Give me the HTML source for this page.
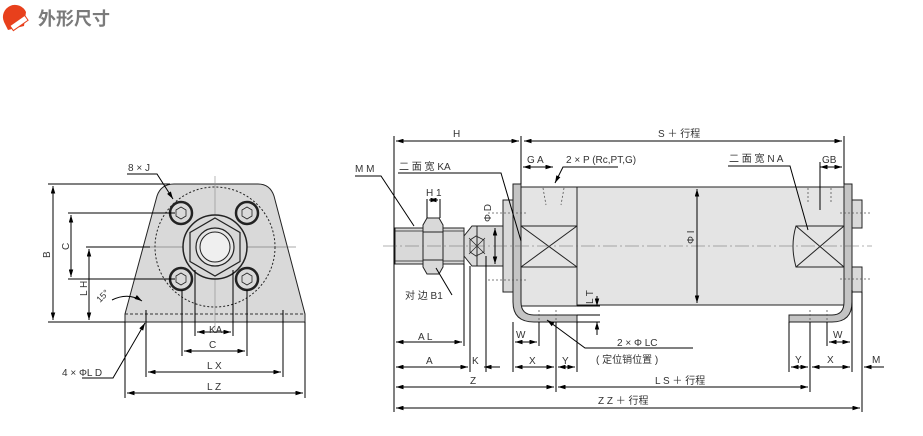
<!DOCTYPE html>
<html><head><meta charset="utf-8"><style>
html,body{margin:0;padding:0;background:#fff;}
svg{display:block;}
text{font-family:"Liberation Sans","Noto Sans CJK SC",sans-serif;font-size:10px;fill:#333;}
</style></head><body>
<svg width="923" height="436" viewBox="0 0 923 436" xmlns="http://www.w3.org/2000/svg">
<defs>
<marker id="a" viewBox="0 0 10 6" refX="10" refY="3" markerWidth="8" markerHeight="4.5" markerUnits="userSpaceOnUse" orient="auto-start-reverse"><path d="M0,0 L10,3 L0,6 z" fill="#000"/></marker>
</defs>
<!-- logo -->
<path d="M4,22 A12,12 0 0 1 26,12 L24,26 L8,30 z" fill="#e8401c"/>
<rect x="10" y="20" width="18" height="6" fill="#fff" stroke="#e8401c" transform="rotate(-35 19 23)"/>
<text x="38" y="25" style="font-size:18px;font-weight:bold;fill:#7a7a7a">外形尺寸</text>

<!-- ===== LEFT VIEW ===== -->
<path d="M125,322 L125,314 L157,196 Q161,184 174,184 L258,184 Q270,184 274,196 L305,314 L305,322 Z" fill="#d9d9d9" stroke="#222" stroke-width="1"/>
<line x1="125" y1="314" x2="305" y2="314" stroke="#333" stroke-dasharray="3,2"/>
<line x1="125" y1="322" x2="305" y2="322" stroke="#222"/>
<circle cx="215" cy="247" r="60" fill="none" stroke="#222" stroke-dasharray="2,2"/>
<line x1="215" y1="176" x2="215" y2="330" stroke="#888" stroke-width="0.6"/>
<line x1="140" y1="247" x2="296" y2="247" stroke="#555" stroke-width="0.6"/>
<circle cx="215" cy="247" r="32" fill="#d9d9d9" stroke="#222" stroke-width="1.5"/>
<polygon points="215,218 240,232.5 240,261.5 215,276 190,261.5 190,232.5" fill="#d9d9d9" stroke="#222" stroke-width="1.2"/>
<circle cx="215" cy="247" r="19" fill="#e6e6e6" stroke="#222" stroke-width="1.2"/>
<circle cx="215" cy="247" r="15" fill="#efefef" stroke="#222"/>
<g stroke="#222" fill="#d9d9d9">
<circle cx="181" cy="213" r="11" stroke-width="2.5"/><circle cx="247" cy="213" r="11" stroke-width="2.5"/>
<circle cx="181" cy="279" r="11" stroke-width="2.5"/><circle cx="247" cy="279" r="11" stroke-width="2.5"/>
</g>
<g stroke="#222" fill="none" stroke-width="0.8">
<polygon points="181,207 186,210 186,216 181,219 176,216 176,210"/><polygon points="247,207 252,210 252,216 247,219 242,216 242,210"/>
<polygon points="181,273 186,276 186,282 181,285 176,282 176,276"/><polygon points="247,273 252,276 252,282 247,285 242,282 242,276"/>
</g>
<g stroke="#000" stroke-width="1" fill="none">
<line x1="48" y1="184" x2="170" y2="184"/><line x1="48" y1="322" x2="125" y2="322"/>
<line x1="53" y1="186" x2="53" y2="320" marker-start="url(#a)" marker-end="url(#a)"/>
<line x1="68" y1="213" x2="175" y2="213"/><line x1="68" y1="279" x2="175" y2="279"/>
<line x1="71" y1="215" x2="71" y2="277" marker-start="url(#a)" marker-end="url(#a)"/>
<line x1="86" y1="247" x2="150" y2="247"/>
<line x1="89" y1="249" x2="89" y2="320" marker-start="url(#a)" marker-end="url(#a)"/>
<line x1="125" y1="322" x2="125" y2="398"/><line x1="305" y1="322" x2="305" y2="398"/>
<line x1="146" y1="310" x2="146" y2="377"/><line x1="283" y1="310" x2="283" y2="377"/>
<line x1="182" y1="290" x2="182" y2="356"/><line x1="247" y1="290" x2="247" y2="356"/>
<line x1="195" y1="270" x2="195" y2="336"/><line x1="233" y1="270" x2="233" y2="336"/>
<line x1="197" y1="332" x2="231" y2="332" marker-start="url(#a)" marker-end="url(#a)"/>
<line x1="184" y1="351" x2="245" y2="351" marker-start="url(#a)" marker-end="url(#a)"/>
<line x1="148" y1="372" x2="281" y2="372" marker-start="url(#a)" marker-end="url(#a)"/>
<line x1="127" y1="393" x2="303" y2="393" marker-start="url(#a)" marker-end="url(#a)"/>
<polyline points="127,174 157,174 173,199" marker-end="url(#a)"/>
<polyline points="82,378 113,378 145,323" marker-end="url(#a)"/>
<path d="M112,300 Q128,292 142,301" marker-end="url(#a)"/>
</g>
<text x="128" y="171">8 × J</text>
<text x="50" y="258" transform="rotate(-90 50 258)">B</text>
<text x="69" y="250" transform="rotate(-90 69 250)">C</text>
<text x="87" y="296" transform="rotate(-90 87 296)">L H</text>
<text x="100" y="303" transform="rotate(-45 100 303)" style="font-size:9px">15°</text>
<text x="209" y="333">KA</text>
<text x="209" y="348">C</text>
<text x="207" y="369">L X</text>
<text x="207" y="390">L Z</text>
<text x="62" y="376">4 × ΦL D</text>

<!-- ===== RIGHT VIEW ===== -->
<rect x="395" y="228" width="69" height="36" fill="#d9d9d9" stroke="#222"/>
<line x1="395" y1="231" x2="464" y2="231" stroke="#222" stroke-width="0.7"/>
<line x1="395" y1="261" x2="464" y2="261" stroke="#222" stroke-width="0.7"/>
<path d="M423,225 L427,218 L439,218 L443,225 L443,267 L439,274 L427,274 L423,267 Z" fill="#d9d9d9" stroke="#222"/>
<line x1="423" y1="232" x2="443" y2="232" stroke="#222"/><line x1="423" y1="260" x2="443" y2="260" stroke="#222"/>
<path d="M464,236 L472,226 L513,226 L513,266 L472,266 L464,256 Z" fill="#d9d9d9" stroke="#222"/>
<line x1="477" y1="226" x2="477" y2="266" stroke="#222"/>
<path d="M470,240 L476,236 L484,240 L484,252 L476,256 L470,252 Z" fill="none" stroke="#222" stroke-width="0.8"/>
<line x1="469" y1="238" x2="485" y2="254" stroke="#222" stroke-width="0.7"/><line x1="485" y1="238" x2="469" y2="254" stroke="#222" stroke-width="0.7"/>
<rect x="503" y="200" width="10" height="92" fill="#d9d9d9" stroke="#222"/>
<rect x="521" y="187" width="56" height="119" fill="#e4e4e4" stroke="#222"/>
<rect x="577" y="187" width="267" height="118" fill="#e4e4e4" stroke="#222"/>
<rect x="521" y="226" width="56" height="41" fill="none" stroke="#222"/>
<line x1="521" y1="226" x2="577" y2="267" stroke="#222"/><line x1="577" y1="226" x2="521" y2="267" stroke="#222"/>
<path d="M513,184 L521,184 L521,302 Q521,315 534,315 L577,315 L577,322 L534,322 Q513,322 513,302 Z" fill="#c4c4c4" stroke="#222"/>
<path d="M796,226 L844,226 L844,267 L796,267 Q790,246 796,226 Z" fill="#e4e4e4" stroke="#222"/>
<line x1="796" y1="226" x2="844" y2="267" stroke="#222"/><line x1="844" y1="226" x2="796" y2="267" stroke="#222"/>
<rect x="852" y="200" width="10" height="28" fill="#d9d9d9" stroke="#222"/>
<rect x="852" y="267" width="10" height="25" fill="#d9d9d9" stroke="#222"/>
<path d="M844,184 L852,184 L852,302 Q852,322 832,322 L789,322 L789,315 L832,315 Q844,315 844,302 Z" fill="#c4c4c4" stroke="#222"/>
<g stroke="#555" stroke-dasharray="2,2" fill="none" stroke-width="0.8">
<line x1="543" y1="188" x2="546" y2="205"/><line x1="564" y1="188" x2="561" y2="205"/>
<line x1="808" y1="188" x2="808" y2="203"/><line x1="831" y1="188" x2="831" y2="203"/>
<line x1="488" y1="213" x2="528" y2="213"/><line x1="488" y1="280" x2="528" y2="280"/>
<line x1="840" y1="213" x2="870" y2="213"/><line x1="840" y1="279" x2="870" y2="279"/>
<line x1="539" y1="310" x2="539" y2="330"/><line x1="556" y1="310" x2="556" y2="330"/>
<line x1="810" y1="310" x2="810" y2="330"/><line x1="827" y1="310" x2="827" y2="330"/>
</g>
<line x1="383" y1="246" x2="872" y2="246" stroke="#666" stroke-width="0.6" stroke-dasharray="14,3,2,3"/>
<g stroke="#000" stroke-width="1" fill="none">
<line x1="394" y1="136" x2="394" y2="412"/>
<line x1="521" y1="136" x2="521" y2="184"/><line x1="844" y1="136" x2="844" y2="184"/>
<line x1="396" y1="141" x2="519" y2="141" marker-start="url(#a)" marker-end="url(#a)"/>
<line x1="524" y1="141" x2="842" y2="141" marker-start="url(#a)" marker-end="url(#a)"/>
<line x1="523" y1="167" x2="553" y2="167" marker-start="url(#a)" marker-end="url(#a)"/>
<polyline points="618,167 563,167 555,183" marker-end="url(#a)"/>
<line x1="820" y1="167" x2="842" y2="167" marker-start="url(#a)" marker-end="url(#a)"/>
<line x1="820" y1="162" x2="820" y2="210"/>
<polyline points="728,166 790,166 808,230"/>
<polyline points="355,176 381,176 414,226"/>
<polyline points="398,173 501,173 521,241"/>
<line x1="427" y1="199" x2="427" y2="218"/><line x1="440" y1="199" x2="440" y2="218"/>
<line x1="429" y1="200" x2="438" y2="200" marker-start="url(#a)" marker-end="url(#a)"/>
<polyline points="452,295 436,268"/>
<line x1="495" y1="228" x2="495" y2="264" marker-start="url(#a)" marker-end="url(#a)"/>
<line x1="697" y1="189" x2="697" y2="303" marker-start="url(#a)" marker-end="url(#a)"/>
<line x1="597" y1="296" x2="597" y2="306" marker-end="url(#a)"/>
<line x1="597" y1="322" x2="597" y2="335" marker-start="url(#a)"/>
<line x1="577" y1="306" x2="600" y2="306"/><line x1="577" y1="315" x2="600" y2="315"/><line x1="577" y1="322" x2="600" y2="322"/>
<polyline points="693,348 585,348 547,320" marker-end="url(#a)"/>
<line x1="464" y1="264" x2="464" y2="346"/>
<line x1="396" y1="342" x2="462" y2="342" marker-start="url(#a)" marker-end="url(#a)"/>
<line x1="470" y1="266" x2="470" y2="372"/><line x1="486" y1="256" x2="486" y2="372"/>
<line x1="513" y1="322" x2="513" y2="372"/><line x1="539" y1="322" x2="539" y2="346"/>
<line x1="515" y1="342" x2="537" y2="342" marker-start="url(#a)" marker-end="url(#a)"/>
<line x1="396" y1="367" x2="468" y2="367" marker-start="url(#a)" marker-end="url(#a)"/>
<line x1="484" y1="367" x2="500" y2="367" marker-start="url(#a)"/>
<line x1="515" y1="367" x2="554" y2="367" marker-start="url(#a)" marker-end="url(#a)"/>
<line x1="556" y1="322" x2="556" y2="392"/><line x1="577" y1="322" x2="577" y2="372"/>
<line x1="558" y1="367" x2="575" y2="367" marker-start="url(#a)" marker-end="url(#a)"/>
<line x1="396" y1="387" x2="554" y2="387" marker-start="url(#a)" marker-end="url(#a)"/>
<line x1="558" y1="387" x2="808" y2="387" marker-start="url(#a)" marker-end="url(#a)"/>
<line x1="396" y1="408" x2="860" y2="408" marker-start="url(#a)" marker-end="url(#a)"/>
<line x1="789" y1="322" x2="789" y2="372"/><line x1="810" y1="322" x2="810" y2="392"/>
<line x1="827" y1="322" x2="827" y2="346"/><line x1="852" y1="290" x2="852" y2="372"/>
<line x1="862" y1="292" x2="862" y2="412"/>
<line x1="829" y1="342" x2="850" y2="342" marker-start="url(#a)" marker-end="url(#a)"/>
<line x1="791" y1="367" x2="808" y2="367" marker-start="url(#a)" marker-end="url(#a)"/>
<line x1="812" y1="367" x2="850" y2="367" marker-start="url(#a)" marker-end="url(#a)"/>
<line x1="884" y1="367" x2="864" y2="367" marker-end="url(#a)"/>
</g>
<text x="453" y="137">H</text>
<text x="658" y="137">S ＋ 行程</text>
<text x="527" y="163">G A</text>
<text x="566" y="163">2 × P (Rc,PT,G)</text>
<text x="729" y="162">二 面 宽 N A</text>
<text x="822" y="163">GB</text>
<text x="355" y="172">M M</text>
<text x="399" y="170">二 面 宽 KA</text>
<text x="426" y="196">H 1</text>
<text x="405" y="299">对 边 B1</text>
<text x="491" y="222" transform="rotate(-90 491 222)">Φ D</text>
<text x="694" y="244" transform="rotate(-90 694 244)">Φ I</text>
<text x="593" y="304" transform="rotate(-90 593 304)">L T</text>
<text x="418" y="340">A L</text>
<text x="516" y="338">W</text>
<text x="617" y="346">2 × Φ LC</text>
<text x="596" y="363">(  定位销位置 )</text>
<text x="426" y="364">A</text>
<text x="472" y="364">K</text>
<text x="529" y="364">X</text>
<text x="562" y="364">Y</text>
<text x="470" y="384">Z</text>
<text x="655" y="384">L S ＋ 行程</text>
<text x="598" y="404">Z Z ＋ 行程</text>
<text x="833" y="338">W</text>
<text x="795" y="363">Y</text>
<text x="827" y="363">X</text>
<text x="872" y="363">M</text>
</svg>
</body></html>
